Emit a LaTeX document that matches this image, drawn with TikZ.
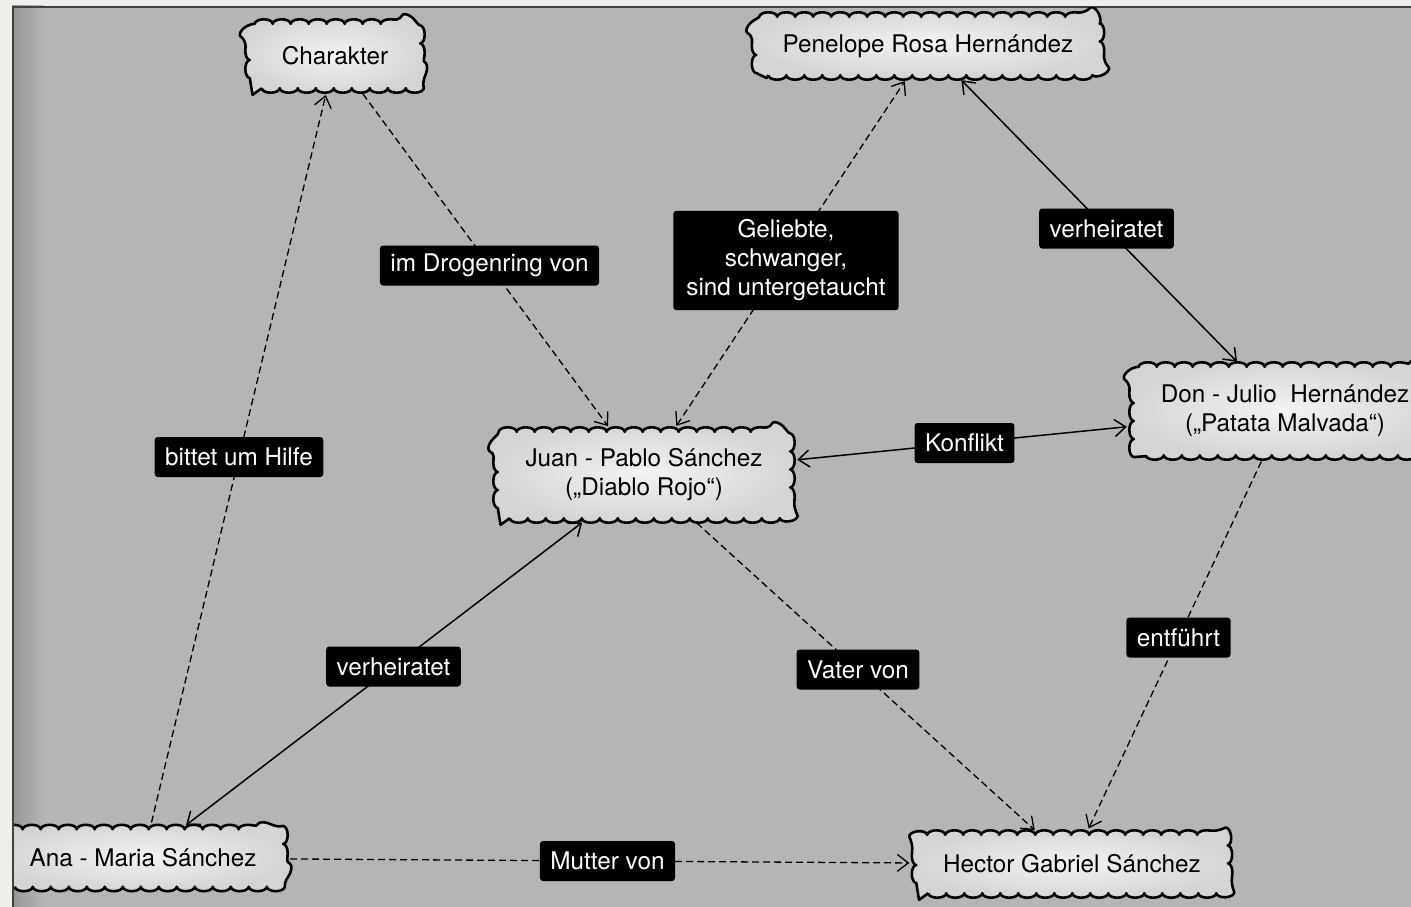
\documentclass[tikz,border=0pt]{standalone}
\usepackage{fontspec}
\setmainfont{TeX Gyre Heros}
\usetikzlibrary{arrows.meta,decorations.pathmorphing}
\definecolor{offwhite}{RGB}{238,238,234}
\definecolor{paper}{RGB}{181,181,181}
\definecolor{paperedge}{RGB}{150,150,150}
\definecolor{cloudin}{RGB}{243,243,243}
\definecolor{cloudout}{RGB}{212,212,212}
\newcommand\mainfs{\fontsize{24.3}{29}\selectfont}
\newcommand\cloudshape[1]{%
  \draw[cloudline] ([xshift=12pt]#1.south west) -- ([xshift=-12pt]#1.south east)
    arc[start angle=-90, end angle=0, radius=12pt] -- ([yshift=-12pt]#1.north east)
    arc[start angle=0, end angle=90, radius=12pt] -- ([xshift=12pt]#1.north west)
    arc[start angle=90, end angle=180, radius=12pt] -- ([yshift=12pt]#1.south west)
    arc[start angle=180, end angle=270, radius=12pt] -- cycle;}
\pgfdeclarelayer{paperlayer}
\pgfdeclarelayer{cloudlayer}
\pgfsetlayers{paperlayer,cloudlayer,main}
\begin{document}
\begin{tikzpicture}[x=1pt,y=-1pt,
  cloudbox/.style={align=center, font=\mainfs, inner sep=0pt},
  cloudline/.style={draw=black, line width=2.6pt, inner color=cloudin, outer color=cloudout,
    line join=round, decorate,
    decoration={bumps, segment length=36pt, amplitude=-4.5pt}},
  lbl/.style={fill=black, text=white, rounded corners=3pt, inner xsep=10.5pt,
    inner ysep=0pt, minimum height=40pt, align=center, font=\mainfs},
  solidlink/.style={line width=1.5pt, shorten >=7pt, shorten <=7pt},
  dashlink/.style={line width=1.3pt, dash pattern=on 7pt off 4pt, shorten >=7pt, shorten <=7pt},
  >={Straight Barb[length=11pt,width=17pt]}
]
\useasboundingbox (0,0) rectangle (1411,907);
\clip (0,0) rectangle (1411,907);

% nodes
\node[cloudbox, minimum width=170pt, minimum height=64pt] (charakter) at (335,56) {Charakter};
\node[cloudbox, minimum width=343pt, minimum height=58pt] (penelope) at (928,46) {Penelope Rosa Hernández};
\node[cloudbox, minimum width=292pt, minimum height=86pt] (juan) at (644,475) {Juan - Pablo Sánchez\\(„Diablo Rojo“)};
\node[cloudbox, minimum width=302pt, minimum height=88pt] (julio) at (1285,411) {Don - Julio~ Hernández\\(„Patata Malvada“)};
\node[cloudbox, minimum width=280pt, minimum height=57pt] (ana) at (143,858) {Ana - Maria Sánchez};
\node[cloudbox, minimum width=311pt, minimum height=58pt] (hector) at (1072,864) {Hector Gabriel Sánchez};

% paper and clouds
\begin{pgfonlayer}{paperlayer}
\fill[offwhite] (0,0) rectangle (1411,907);
\fill[paper] (12,6) rectangle (1411,907);
\shade[left color=paperedge, right color=paper] (12,6) rectangle (44,907);
\draw[line width=2.5pt, black!75] (13,907) -- (13,7) -- (1411,7);
\end{pgfonlayer}
\begin{pgfonlayer}{cloudlayer}
\begin{scope}
\clip (14,8) rectangle (1411,907);
\foreach \n in {charakter,penelope,juan,julio,ana,hector}
  \cloudshape{\n};
\end{scope}
\end{pgfonlayer}

% connectors
\draw[dashlink,->] (ana) -- (charakter);
\draw[dashlink,->] (charakter) -- (juan);
\draw[dashlink,<->] (juan) -- (penelope);
\draw[solidlink,<->] (penelope) -- (julio);
\draw[solidlink,<->] (juan) -- (julio);
\draw[dashlink,->] (julio) -- (hector);
\draw[dashlink,->] (juan) -- (hector);
\draw[solidlink,<->] (juan) -- (ana);
\draw[dashlink,->] (ana) -- (hector);

% labels
\path (ana.center) -- node[lbl] (l1) {bittet um Hilfe} (charakter.center);
\path (charakter.center) -- node[lbl] (l2) {im Drogenring von} (juan.center);
\path (juan.center) -- node[lbl, inner xsep=13pt, inner ysep=9pt] (l3) {Geliebte,\\schwanger,\\sind untergetaucht} (penelope.center);
\path (penelope.center) -- node[lbl] (l4) {verheiratet} (julio.center);
\path (juan.center) -- node[lbl] (l5) {Konflikt} (julio.center);
\path (julio.center) -- node[lbl] (l6) {entführt} (hector.center);
\path (juan.center) -- node[lbl] (l7) {Vater von} (hector.center);
\path (juan.center) -- node[lbl] (l8) {verheiratet} (ana.center);
\path (ana.center) -- node[lbl] (l9) {Mutter von} (hector.center);
\end{tikzpicture}
\end{document}
